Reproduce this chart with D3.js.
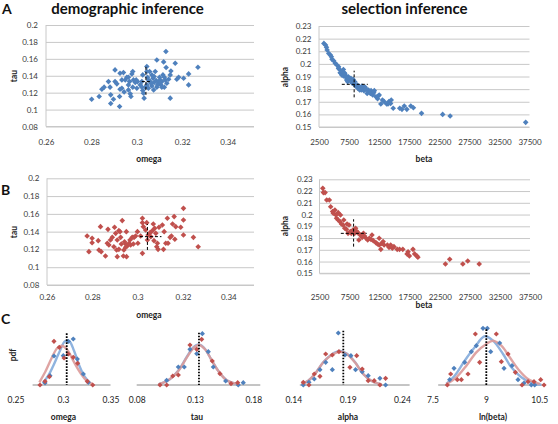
<!DOCTYPE html>
<html><head><meta charset="utf-8">
<script src="https://cdn.jsdelivr.net/npm/d3@7"></script>
<style>
body{margin:0;background:#fff;}
svg{display:block;font-family:Lato,"Liberation Sans",sans-serif;}
</style></head><body>
<svg id="c" width="558" height="424"></svg>
<script>
// ---------------- DATA ----------------
// Panel A (blue) demographic: [omega, tau]
const aDemo = [[0.2801,0.1123],[0.2834,0.1154],[0.2846,0.1241],[0.2856,0.1265],[0.2875,0.1331],[0.2882,0.1265],[0.2885,0.1174],[0.2885,0.1072],[0.2897,0.1123],[0.2904,0.1469],[0.2904,0.1331],[0.2924,0.1036],[0.2924,0.1154],[0.2926,0.1241],[0.2926,0.1430],[0.2934,0.1351],[0.2941,0.1437],[0.2944,0.1209],[0.2949,0.1351],[0.2956,0.1383],[0.2963,0.1233],[0.2963,0.1292],[0.2968,0.1331],[0.2971,0.1186],[0.2974,0.1154],[0.2978,0.1422],[0.2982,0.1450],[0.2985,0.1351],[0.2993,0.1320],[0.2997,0.1351],[0.3000,0.1253],[0.3003,0.1331],[0.3015,0.1292],[0.3022,0.1331],[0.3026,0.1225],[0.3026,0.1410],[0.3029,0.1194],[0.3032,0.1135],[0.3037,0.1265],[0.3044,0.1509],[0.3044,0.1292],[0.3047,0.1383],[0.3051,0.1253],[0.3056,0.1450],[0.3059,0.1331],[0.3066,0.1410],[0.3066,0.1280],[0.3071,0.1371],[0.3074,0.1233],[0.3076,0.1320],[0.3081,0.1450],[0.3085,0.1343],[0.3088,0.1587],[0.3088,0.1265],[0.3096,0.1312],[0.3100,0.1383],[0.3103,0.1351],[0.3106,0.1292],[0.3110,0.1331],[0.3115,0.1410],[0.3118,0.1564],[0.3121,0.1265],[0.3125,0.1351],[0.3128,0.1686],[0.3129,0.1497],[0.3132,0.1312],[0.3140,0.1359],[0.3147,0.1410],[0.3147,0.1135],[0.3150,0.1457],[0.3169,0.1548],[0.3176,0.1359],[0.3184,0.1383],[0.3206,0.1371],[0.3228,0.1422],[0.3228,0.1292],[0.3269,0.1500],[0.3051,0.1351],[0.3062,0.1312],[0.3076,0.1391],[0.3091,0.1292],[0.3100,0.1331],[0.3110,0.1265],[0.3121,0.1383],[0.3044,0.1450],[0.3022,0.1265],[0.2982,0.1265],[0.2963,0.1383],[0.2912,0.1304],[0.2934,0.1253]];
// Panel A (blue) selection: [beta, alpha]
const aSel = [[3312,0.2162],[3582,0.2149],[3745,0.2131],[3853,0.2110],[4123,0.2083],[4394,0.2070],[4556,0.2057],[4665,0.2036],[4935,0.2025],[5206,0.2004],[5476,0.1991],[5747,0.1978],[5747,0.1964],[6017,0.1951],[6017,0.1930],[6180,0.1925],[6288,0.1912],[6396,0.1938],[6558,0.1956],[6558,0.1904],[6721,0.1930],[6829,0.1920],[6991,0.1893],[7100,0.1872],[7100,0.1898],[7262,0.1859],[7370,0.1898],[7533,0.1885],[7641,0.1872],[7803,0.1885],[7911,0.1859],[8020,0.1846],[8182,0.1877],[8182,0.1846],[8452,0.1832],[8452,0.1859],[8723,0.1819],[8885,0.1832],[8994,0.1806],[9264,0.1814],[9264,0.1793],[9535,0.1793],[9643,0.1825],[9805,0.1806],[9968,0.1788],[10076,0.1814],[10184,0.1814],[10346,0.1798],[10509,0.1766],[10725,0.1793],[10887,0.1780],[11050,0.1766],[11158,0.1788],[11429,0.1753],[11591,0.1772],[11699,0.1788],[11970,0.1740],[12240,0.1724],[12349,0.1745],[12511,0.1753],[12781,0.1682],[13052,0.1714],[13323,0.1701],[13756,0.1682],[13973,0.1682],[14134,0.1701],[14405,0.1687],[14513,0.1714],[14838,0.1648],[15920,0.1648],[16299,0.1640],[16677,0.1666],[17110,0.1640],[17760,0.1666],[18193,0.1653],[19546,0.1608],[23063,0.1600],[24307,0.1587],[36867,0.1537]];
// Panel B (red) demographic: [omega, tau]
const bDemo = [[0.2777,0.1351],[0.2785,0.1175],[0.2799,0.1325],[0.2799,0.1276],[0.2826,0.1299],[0.2829,0.1194],[0.2836,0.1456],[0.2839,0.1175],[0.2858,0.1126],[0.2866,0.1269],[0.2869,0.1426],[0.2873,0.1250],[0.2880,0.1306],[0.2888,0.1336],[0.2895,0.1231],[0.2898,0.1449],[0.2903,0.1381],[0.2907,0.1194],[0.2910,0.1306],[0.2910,0.1119],[0.2917,0.1411],[0.2917,0.1201],[0.2922,0.1400],[0.2925,0.1336],[0.2928,0.1261],[0.2932,0.1524],[0.2937,0.1126],[0.2939,0.1194],[0.2942,0.1287],[0.2947,0.1261],[0.2947,0.1224],[0.2950,0.1400],[0.2951,0.1119],[0.2954,0.1239],[0.2962,0.1269],[0.2966,0.1306],[0.2969,0.1250],[0.2976,0.1336],[0.2981,0.1261],[0.2984,0.1336],[0.2991,0.1351],[0.2999,0.1400],[0.3001,0.1269],[0.3013,0.1351],[0.3021,0.1550],[0.3021,0.1501],[0.3021,0.1156],[0.3025,0.1456],[0.3035,0.1419],[0.3040,0.1501],[0.3043,0.1306],[0.3046,0.1362],[0.3055,0.1389],[0.3058,0.1344],[0.3065,0.1411],[0.3069,0.1486],[0.3072,0.1299],[0.3075,0.1437],[0.3080,0.1381],[0.3084,0.1231],[0.3087,0.1269],[0.3090,0.1201],[0.3094,0.1449],[0.3109,0.1475],[0.3114,0.1201],[0.3117,0.1400],[0.3124,0.1269],[0.3131,0.1550],[0.3134,0.1269],[0.3143,0.1336],[0.3149,0.1351],[0.3154,0.1486],[0.3161,0.1569],[0.3164,0.1314],[0.3168,0.1456],[0.3190,0.1449],[0.3202,0.1662],[0.3202,0.1531],[0.3202,0.1362],[0.3246,0.1336],[0.3267,0.1231]];
// Panel B (red) selection: [beta, alpha]
const bSel = [[3045,0.2223],[3154,0.2187],[3427,0.2187],[3700,0.2124],[4136,0.2124],[4354,0.2067],[4681,0.2025],[4790,0.2011],[5063,0.2039],[5227,0.1996],[5336,0.1968],[5608,0.2016],[5608,0.1954],[5881,0.1940],[5990,0.1996],[6154,0.1920],[6426,0.1911],[6535,0.1954],[6699,0.1883],[6972,0.1874],[7081,0.1920],[7244,0.1840],[7408,0.1911],[7626,0.1855],[7789,0.1840],[8062,0.1869],[8335,0.1840],[8498,0.1883],[8717,0.1855],[8880,0.1846],[9044,0.1784],[9262,0.1826],[9589,0.1806],[9807,0.1840],[9971,0.1818],[10243,0.1798],[10516,0.1784],[10789,0.1798],[11061,0.1789],[11225,0.1826],[11443,0.1778],[11879,0.1761],[12152,0.1750],[12425,0.1798],[12425,0.1741],[12697,0.1704],[12861,0.1755],[13079,0.1770],[13243,0.1741],[13788,0.1741],[14061,0.1721],[14333,0.1741],[14606,0.1713],[14879,0.1727],[15424,0.1704],[15806,0.1704],[16351,0.1704],[17060,0.1665],[17224,0.1684],[17442,0.1648],[18041,0.1704],[18314,0.1665],[18696,0.1648],[18860,0.1636],[23440,0.1579],[24149,0.1619],[26330,0.1579],[27148,0.1605],[29056,0.1579]];
// crosshairs: [xCentre, yCentre, xLow, xHigh, yLow, yHigh]
const aDemoCross = [0.3040, 0.1331, 0.3022, 0.3066, 0.1174, 0.1517];
const aSelCross  = [8345, 0.1838, 6288, 10617, 0.1735, 0.1946];
const bDemoCross = [0.3043, 0.1344, 0.3010, 0.3105, 0.1194, 0.1486];
const bSelCross  = [8171, 0.1840, 6045, 10352, 0.1727, 0.1960];
// tick values
const omegaTicks = [0.26, 0.28, 0.30, 0.32, 0.34];
const tauTicks = [0.08, 0.10, 0.12, 0.14, 0.16, 0.18, 0.20];
const betaTicks = [2500, 7500, 12500, 17500, 22500, 27500, 32500, 37500];
const alphaTicks = [0.15, 0.16, 0.17, 0.18, 0.19, 0.20, 0.21, 0.22, 0.23];

// Panel C: histogram points [value, pdf] and fitted curves
const cOmegaBlue = [[0.2811,2],[0.2863,9.3],[0.2905,29],[0.3003,29.3],[0.3056,43.7],[0.3108,46],[0.3151,26],[0.3214,11],[0.3266,2.7]];
const cOmegaRed = [[0.2758,0],[0.2811,3.7],[0.2856,8.3],[0.2905,43.7],[0.2961,37.7],[0.3011,27],[0.3056,31],[0.3108,27.7],[0.3154,21.7],[0.3256,3.7],[0.3313,0]];
const cOmegaBlueFit = [[0.2786,1.7],[0.2845,9.3],[0.2898,19.3],[0.2968,34.3],[0.3021,43.7],[0.3066,43.7],[0.3116,34.3],[0.3172,19.3],[0.3221,9.3],[0.3284,1.7]];
const cOmegaRedFit = [[0.2751,2.7],[0.2811,12.7],[0.2881,27],[0.2940,37],[0.2986,39.3],[0.3039,36],[0.3108,24.3],[0.3179,12.7],[0.3249,4.3],[0.3313,1]];

const cTauBlue = [[0.1057,4.7],[0.1157,18],[0.1208,18],[0.1257,35.7],[0.1315,31.3],[0.1363,51.3],[0.1414,33.3],[0.1457,18],[0.1563,4],[0.1671,0],[0.1714,2.3]];
const cTauRed = [[0.1000,0],[0.1057,0],[0.1109,9],[0.1157,10],[0.1257,40],[0.1315,35.7],[0.1357,45.7],[0.1448,24],[0.1514,11.3],[0.1609,1.3],[0.1666,2.3]];
const cTauBlueFit = [[0.0985,0.7],[0.1071,4.7],[0.1157,14.5],[0.1229,28],[0.1285,37.5],[0.1334,40.5],[0.1386,36],[0.1443,24.7],[0.1500,14],[0.1572,4.7],[0.1671,0.7]];
const cTauRedFit = [[0.0985,0.7],[0.1071,4.7],[0.1157,14],[0.1229,27.3],[0.1285,36.7],[0.1334,40],[0.1386,35.7],[0.1443,24.7],[0.1500,14],[0.1572,4.7],[0.1671,0.7]];

const cAlphaBlue = [[0.1492,0],[0.1544,2.7],[0.1593,6],[0.1645,15.3],[0.1698,22.7],[0.1759,15.3],[0.1814,52],[0.1875,30],[0.1930,29.3],[0.1973,15.3],[0.2034,13.3],[0.2089,9.3],[0.2197,6.7],[0.2249,0]];
const cAlphaRed = [[0.1492,2.7],[0.1544,0],[0.1593,11],[0.1645,8.7],[0.1698,31],[0.1759,30],[0.1820,33.3],[0.1921,17.7],[0.1983,29.3],[0.2034,16],[0.2089,4.3],[0.2144,4.3],[0.2197,0],[0.2249,6.7]];
const cAlphaBlueFit = [[0.1477,0.7],[0.1538,4.3],[0.1599,11],[0.1676,22.7],[0.1753,30.5],[0.1829,34],[0.1891,31.5],[0.1967,23],[0.2043,11],[0.2121,4],[0.2213,0.7]];
const cAlphaRedFit = [[0.1477,0.7],[0.1538,4.3],[0.1599,11],[0.1676,22.7],[0.1753,30],[0.1829,33.3],[0.1891,31],[0.1967,22.7],[0.2043,11],[0.2121,4],[0.2213,0.7]];

const cLnBetaBlue = [[7.983,5.3],[8.105,16.7],[8.405,22.7],[8.592,33.3],[8.732,39.3],[8.920,56.7],[9.041,56.7],[9.136,33.3],[9.389,42],[9.511,16.7],[9.736,19.3],[9.904,5.3],[10.073,2],[10.279,0],[10.373,0]];
const cLnBetaRed = [[7.917,0],[8.011,11],[8.198,5.3],[8.311,5.3],[8.498,11],[8.705,51],[8.826,22.7],[9.295,51],[9.436,23.3],[9.624,31],[9.830,12.7],[10.017,0],[10.186,3.3],[10.354,3.3],[10.542,5.3],[10.636,0]];
const cLnBetaBlueFit = [[7.888,1],[8.124,9.3],[8.405,24.3],[8.687,37.7],[8.968,48.7],[9.201,44.3],[9.483,31],[9.717,17.7],[9.998,7.7],[10.279,2],[10.560,0.3]];
const cLnBetaRedFit = [[7.888,1],[8.171,7.7],[8.452,19.3],[8.732,32.7],[9.013,41],[9.201,44.3],[9.436,39.3],[9.671,27.7],[9.904,16],[10.186,6],[10.515,1]];

// true values (dotted lines): [value, pdf height of top]
const cTrue = [[0.3039,51.7],[0.1334,52.3],[0.186,54.3],[9.013,55.7]];
const cTicks = [[0.25,0.30,0.35],[0.08,0.13,0.18],[0.14,0.19,0.24],[7.5,9,10.5]];
const cBaseExtent = [[0.268,0.35],[0.08,0.186],[0.146,0.247],[7.66,10.69]];
const cTitles = ["omega","tau","alpha","ln(beta)"];

// ---------------- DRAWING ----------------
const svg = d3.select("#c");
const BLUE = "#4f81bd", RED = "#c0504d";
const BLUE_FIT = "#8fb3df", RED_FIT = "#dc9a99";
const GRID = "#c8c8c8", TXT = "#3a3a3a";
const fmt = v => String(+v.toFixed(3));
const diamondPath = r => `M0,${-r}L${r},0L0,${r}L${-r},0Z`;

function markers(g, data, x, y, color, r) {
  g.append("g").selectAll("path").data(data).enter().append("path")
    .attr("d", diamondPath(r))
    .attr("transform", d => `translate(${x(d[0])},${y(d[1])})`)
    .attr("fill", color);
}

function scatterPanel(p) {
  const x = d3.scaleLinear().domain(p.xDom).range(p.xRange);
  const y = d3.scaleLinear().domain(p.yDom).range(p.yRange);
  const g = svg.append("g");
  const x0 = p.xRange[0], gridR = p.gridRight;
  const ya = g.append("g").attr("transform", `translate(${x0},0)`)
    .call(d3.axisLeft(y).tickValues(p.yTicks).tickFormat(fmt)
      .tickSize(-(gridR - x0)).tickPadding(x0 - p.yLabelRight));
  ya.select(".domain").remove();
  ya.selectAll("line").attr("stroke", GRID);
  ya.selectAll("text").attr("fill", TXT).style("font-size", "8px").style("font-family", "Lato");
  const xa = g.append("g").attr("transform", `translate(0,${p.yRange[0]})`)
    .call(d3.axisBottom(x).tickValues(p.xTicks).tickFormat(fmt).tickSize(0).tickPadding(p.xLabelPad));
  xa.select(".domain").remove();
  xa.selectAll("text").attr("fill", TXT).style("font-size", "8px").style("font-family", "Lato");
  g.append("line").attr("x1", x0).attr("x2", x0).attr("y1", p.yRange[1]).attr("y2", p.yRange[0]).attr("stroke", GRID);
  g.append("line").attr("x1", x0).attr("x2", gridR).attr("y1", p.yRange[0]).attr("y2", p.yRange[0]).attr("stroke", GRID);
  markers(g, p.data, x, y, p.color, 2.8);
  const c = p.cross;
  g.append("line").attr("x1", x(c[0])).attr("x2", x(c[0])).attr("y1", y(c[4])).attr("y2", y(c[5]))
    .attr("stroke", "#000").attr("stroke-width", 1).attr("stroke-dasharray", "3,2");
  g.append("line").attr("x1", x(c[2])).attr("x2", x(c[3])).attr("y1", y(c[1])).attr("y2", y(c[1]))
    .attr("stroke", "#000").attr("stroke-width", 1).attr("stroke-dasharray", "3,2");
  g.append("text").attr("x", p.xTitle[0]).attr("y", p.xTitle[1]).attr("text-anchor", "middle")
    .style("font-size", "8.5px").style("font-weight", "bold").attr("fill", "#222").text(p.xName);
  g.append("text").attr("transform", `translate(${p.yTitle[0]},${p.yTitle[1]}) rotate(-90)`)
    .attr("text-anchor", "middle").attr("dy", "0.35em")
    .style("font-size", "8.5px").style("font-weight", "bold").attr("fill", "#222").text(p.yName);
}

scatterPanel({data: aDemo, color: BLUE, cross: aDemoCross, xDom: [0.26, 0.35], xRange: [46, 250.4], gridRight: 254,
  yDom: [0.08, 0.2], yRange: [126.5, 25], yTicks: tauTicks, xTicks: omegaTicks, yLabelRight: 38, xLabelPad: 12.4,
  xName: "omega", xTitle: [149, 162], yName: "tau", yTitle: [14, 76]});
scatterPanel({data: aSel, color: BLUE, cross: aSelCross, xDom: [2500, 37500], xRange: [319, 529.5], gridRight: 529.5,
  yDom: [0.15, 0.23], yRange: [127, 26], yTicks: alphaTicks, xTicks: betaTicks, yLabelRight: 311.5, xLabelPad: 11.9,
  xName: "beta", xTitle: [424, 162], yName: "alpha", yTitle: [285, 77]});
scatterPanel({data: bDemo, color: RED, cross: bDemoCross, xDom: [0.26, 0.35], xRange: [47, 251], gridRight: 254,
  yDom: [0.08, 0.2], yRange: [285, 178.3], yTicks: tauTicks, xTicks: omegaTicks, yLabelRight: 39.3, xLabelPad: 8.9,
  xName: "omega", xTitle: [149, 318], yName: "tau", yTitle: [14, 232]});
scatterPanel({data: bSel, color: RED, cross: bSelCross, xDom: [2500, 37500], xRange: [319.5, 530], gridRight: 530,
  yDom: [0.15, 0.23], yRange: [273.3, 179.3], yTicks: alphaTicks, xTicks: betaTicks, yLabelRight: 312.7, xLabelPad: 20.6,
  xName: "beta", xTitle: [424, 308], yName: "alpha", yTitle: [285, 226]});

// Panel C
const cRanges = [[15.5, 110.5], [136.7, 253.3], [293.3, 402], [432.5, 539.2]];
const cTitleX = [63.5, 197, 348, 493];
const cSets = [
  [cOmegaBlue, cOmegaRed, cOmegaBlueFit, cOmegaRedFit],
  [cTauBlue, cTauRed, cTauBlueFit, cTauRedFit],
  [cAlphaBlue, cAlphaRed, cAlphaBlueFit, cAlphaRedFit],
  [cLnBetaBlue, cLnBetaRed, cLnBetaBlueFit, cLnBetaRedFit]];
const yC = d3.scaleLinear().domain([0, 60]).range([385, 325]);
cSets.forEach((set, i) => {
  const ticks = cTicks[i];
  const x = d3.scaleLinear().domain([ticks[0], ticks[2]]).range(cRanges[i]);
  const g = svg.append("g");
  const be = cBaseExtent[i];
  g.append("line").attr("x1", x(be[0])).attr("x2", x(be[1])).attr("y1", yC(0)).attr("y2", yC(0))
    .attr("stroke", i === 0 ? "#c4c4c4" : "#8a8a8a").attr("stroke-width", i === 0 ? 2 : 1);
  const xa = g.append("g").attr("transform", `translate(0,${yC(0)})`)
    .call(d3.axisBottom(x).tickValues(ticks).tickFormat(fmt).tickSize(0).tickPadding(12));
  xa.select(".domain").remove();
  xa.selectAll("text").attr("fill", "#222").style("font-size", "8.5px").style("font-family", "Lato");
  const line = d3.line().x(d => x(d[0])).y(d => yC(d[1])).curve(d3.curveCatmullRom);
  g.append("path").datum(set[2]).attr("d", line).attr("fill", "none").attr("stroke", BLUE_FIT).attr("stroke-width", 2.4);
  g.append("path").datum(set[3]).attr("d", line).attr("fill", "none").attr("stroke", RED_FIT).attr("stroke-width", 2.4).attr("stroke-opacity", 0.9);
  markers(g, set[0], x, yC, BLUE, 2.6);
  markers(g, set[1], x, yC, RED, 2.6);
  const t = cTrue[i];
  g.append("line").attr("x1", x(t[0])).attr("x2", x(t[0])).attr("y1", yC(t[1])).attr("y2", yC(0))
    .attr("stroke", "#000").attr("stroke-width", 1.8).attr("stroke-dasharray", "1.6,1.4");
  g.append("text").attr("x", cTitleX[i]).attr("y", 420).attr("text-anchor", "middle")
    .style("font-size", "8.5px").style("font-weight", "bold").attr("fill", "#222").text(cTitles[i]);
});
svg.append("text").attr("transform", "translate(13,355) rotate(-90)").attr("text-anchor", "middle").attr("dy", "0.35em")
  .style("font-size", "8.5px").style("font-weight", "bold").attr("fill", "#222").text("pdf");

// Panel letters and headings
const letters = [["A", 2, 13.5], ["B", 1, 195], ["C", 1, 324]];
letters.forEach(l => svg.append("text").attr("x", l[1]).attr("y", l[2])
  .style("font-size", "14px").style("font-weight", "bold").attr("fill", "#111").text(l[0]));
const headings = [["demographic inference", 127.5], ["selection inference", 404.5]];
headings.forEach(h => svg.append("text").attr("x", h[1]).attr("y", 13.5).attr("text-anchor", "middle")
  .style("font-size", "15px").style("font-weight", "bold").attr("fill", "#111").text(h[0]));
</script>
</body></html>
